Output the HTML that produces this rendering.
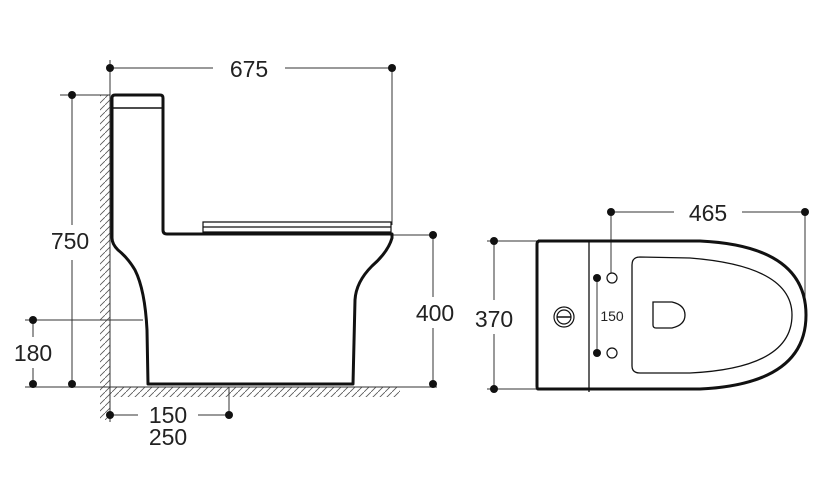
<!DOCTYPE html>
<html><head><style>html,body{margin:0;padding:0;background:#fff}svg{display:block}text{font-family:"Liberation Sans",sans-serif;fill:#222}</style></head>
<body>
<svg width="829" height="486" viewBox="0 0 829 486" xmlns="http://www.w3.org/2000/svg">
<defs><pattern id="h" width="7" height="7" patternUnits="userSpaceOnUse"><path d="M0 7 L7 0" stroke="#555" stroke-width="0.8"/></pattern></defs>
<g stroke="#333" stroke-width="1" fill="none">
<rect x="100" y="95" width="10" height="325" fill="url(#h)" stroke="none"/>
<rect x="110" y="387" width="290" height="10" fill="url(#h)" stroke="none"/>
<line x1="110" y1="60" x2="110" y2="422"/>
<line x1="25" y1="387" x2="437" y2="387"/>
<line x1="110" y1="68" x2="213" y2="68"/><line x1="285" y1="68" x2="392" y2="68"/>
<line x1="392" y1="68" x2="392" y2="225"/>
<line x1="60" y1="95" x2="110" y2="95"/>
<line x1="72" y1="95" x2="72" y2="225"/><line x1="72" y1="260" x2="72" y2="384"/>
<line x1="25" y1="320" x2="143" y2="320"/>
<line x1="33" y1="320" x2="33" y2="337"/><line x1="33" y1="368" x2="33" y2="384"/>
<line x1="392" y1="235" x2="437" y2="235"/>
<line x1="433" y1="235" x2="433" y2="297"/><line x1="433" y1="328" x2="433" y2="384"/>
<line x1="110" y1="415" x2="138" y2="415"/><line x1="198" y1="415" x2="229" y2="415"/>
<line x1="229" y1="387" x2="229" y2="415"/>
</g>
<g stroke="#111" stroke-width="3" fill="none" stroke-linejoin="round">
<path d="M112 98 Q112 95 115 95 L160 95 Q163 95 163 98 L163 230 Q163 234 167 234 L392 234 L392 238 Q388 252 372 266 Q356 282 355 300 L353 384 L148 384 L147 330 Q145 290 135 270 Q128 258 118 250 Q112 244 112 238 Z"/>
</g>
<line x1="113" y1="108" x2="162" y2="108" stroke="#111" stroke-width="1.5"/>
<path d="M203 222 L391 222 L391 232 L203 232 Z M203 227 L391 227" stroke="#111" stroke-width="1.2" fill="#fff"/>
<g fill="#111">
<circle cx="110" cy="68" r="4"/><circle cx="392" cy="68" r="4"/>
<circle cx="72" cy="95" r="4"/><circle cx="72" cy="384" r="4"/>
<circle cx="33" cy="320" r="4"/><circle cx="33" cy="384" r="4"/>
<circle cx="433" cy="235" r="4"/><circle cx="433" cy="384" r="4"/>
<circle cx="110" cy="415" r="4"/><circle cx="229" cy="415" r="4"/>
</g>
<g font-size="23" text-anchor="middle">
<text x="249" y="77">675</text>
<text x="70" y="249">750</text>
<text x="33" y="361">180</text>
<text x="435" y="321">400</text>
<text x="168" y="423">150</text>
<text x="168" y="445">250</text>
</g>
<g stroke="#333" stroke-width="1" fill="none">
<line x1="611" y1="212" x2="674" y2="212"/><line x1="742" y1="212" x2="805" y2="212"/>
<line x1="611" y1="212" x2="611" y2="273"/>
<line x1="805" y1="212" x2="805" y2="300"/>
<line x1="487" y1="241" x2="537" y2="241"/><line x1="487" y1="389" x2="537" y2="389"/>
<line x1="494" y1="241" x2="494" y2="300"/><line x1="494" y1="334" x2="494" y2="389"/>
<line x1="597" y1="278" x2="597" y2="353"/>
</g>
<path d="M538 241 L700 241 Q806 246 806 315 Q806 384 700 389 L538 389 Q537 389 537 386 L537 244 Q537 241 540 241 Z" stroke="#111" stroke-width="3" fill="none"/>
<line x1="589" y1="241" x2="589" y2="392" stroke="#111" stroke-width="1.3"/>
<path d="M640 257 Q632 257 632 265 L632 366 Q632 373 640 373 L690 373 Q792 368 792 315 Q792 266 690 258 Z" stroke="#111" stroke-width="1.3" fill="none"/>
<path d="M653 302 L672 302 Q685 305 685 315 Q685 325 672 328 L656 328 Q653 328 653 325 Z" stroke="#111" stroke-width="1.3" fill="none"/>
<circle cx="612" cy="278" r="5" stroke="#111" stroke-width="1.2" fill="#fff"/>
<circle cx="612" cy="353" r="5" stroke="#111" stroke-width="1.2" fill="#fff"/>
<circle cx="564" cy="317" r="10" stroke="#111" stroke-width="1.2" fill="none"/>
<circle cx="564" cy="317" r="7" stroke="#111" stroke-width="1.2" fill="none"/>
<line x1="557" y1="317" x2="571" y2="317" stroke="#111" stroke-width="1.5"/>
<g fill="#111">
<circle cx="611" cy="212" r="4"/><circle cx="805" cy="212" r="4"/>
<circle cx="494" cy="241" r="4"/><circle cx="494" cy="389" r="4"/>
<circle cx="597" cy="278" r="4"/><circle cx="597" cy="353" r="4"/>
</g>
<g text-anchor="middle">
<text x="708" y="221" font-size="23">465</text>
<text x="494" y="327" font-size="23">370</text>
<text x="612" y="321" font-size="14">150</text>
</g>
</svg>
</body></html>
